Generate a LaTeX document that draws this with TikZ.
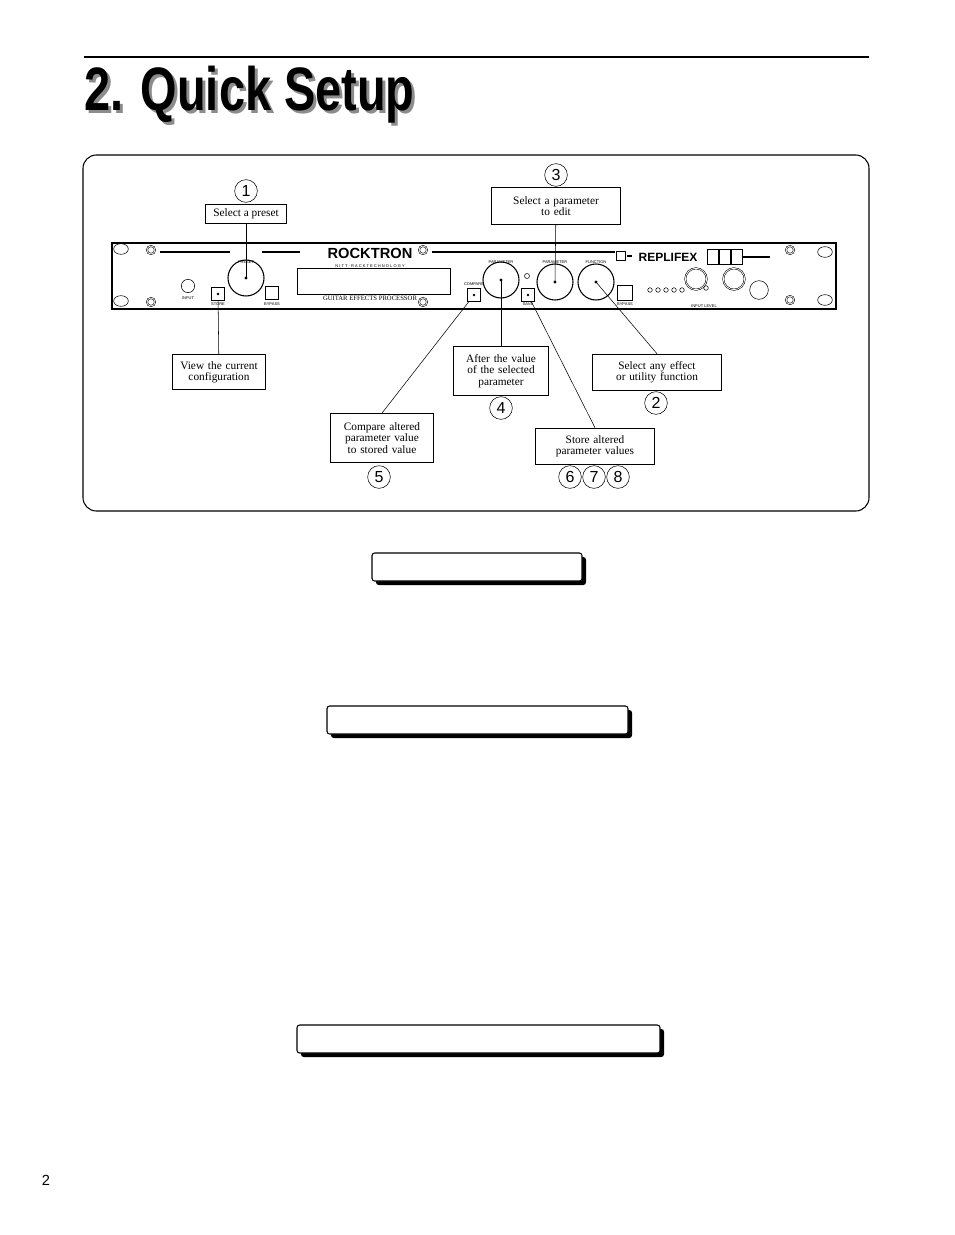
\documentclass[tikz,border=0pt]{standalone}
\usepackage{fontspec}
\setmainfont{Liberation Serif}
\newfontfamily\headfont{Liberation Sans}
\usetikzlibrary{shapes,arrows}
\tikzstyle{block} = [rectangle, draw, fill=white, text centered, font=\fontsize{8.5}{8.5}\selectfont, inner sep=1pt]
\tikzstyle{num} = [circle, draw, minimum size=17pt, inner sep=0pt, font=\headfont\fontsize{12}{12}\selectfont]
\tikzstyle{line} = [draw, thin]
\tikzstyle{knob} = [circle, draw, thick, minimum size=27pt, inner sep=0pt]
\tikzstyle{btn} = [rectangle, draw, minimum size=9.5pt, inner sep=0pt]
\tikzstyle{screw} = [circle, draw, double, minimum size=6pt, inner sep=0pt]
\tikzstyle{hole} = [ellipse, draw, minimum width=11pt, minimum height=8pt, inner sep=0pt]
\tikzstyle{shadowbox} = [rectangle, draw, thick, rounded corners=2pt, fill=white]
\tikzstyle{tiny} = [font=\headfont\fontsize{3}{3}\selectfont, inner sep=0pt]
\begin{document}
\begin{tikzpicture}[x=0.75pt,y=-0.75pt]
   \useasboundingbox (0,0) rectangle (954,1235);
   \draw [thick] (84,57) -- (869,57);
   \node [anchor=west, inner sep=0pt, text=black!45, font=\headfont\bfseries\fontsize{40}{40}\selectfont] at (87,98)
      {\scalebox{0.88}[1.15]{2. Quick Setup}};
   \node [anchor=west, inner sep=0pt, font=\headfont\bfseries\fontsize{40}{40}\selectfont] (title) at (84,95)
      {\scalebox{0.88}[1.15]{2. Quick Setup}};
   \draw [thick, rounded corners=10pt] (83,155) rectangle (869,511);

   % front panel
   \draw [thick] (112,243) rectangle (836,309);
   \foreach \x/\y in {121/249, 121/301, 825/252, 825/300}
      \node [hole] at (\x,\y) {};
   \foreach \x/\y in {151/250, 151/302, 423/250, 423/302, 790/250, 790/300}
      \node [screw] at (\x,\y) {};
   \draw [thick] (160,252) -- (230,252) (262,252) -- (300,252) (432,252) -- (615,252) (627,256) -- (632,256);
   \node [font=\headfont\bfseries\fontsize{11}{11}\selectfont] (brand) at (370,253) {ROCKTRON};
   \node [tiny] at (370,266) {N I T T - R A C K  T E C H N O L O G Y};
   \node [font=\headfont\bfseries\fontsize{9}{9}\selectfont] (fx) at (668,257) {REPLIFEX};
   \foreach \x in {713,725,737}
      \node [draw, minimum width=8pt, minimum height=11pt, inner sep=0pt] at (\x,257) {};
   \node [draw, minimum size=7pt, inner sep=0pt] at (621,256) {};
   \draw [thick] (743,257) -- (770,257);
   \draw (297,268) rectangle (450,294);
   \node [tiny, font=\fontsize{5}{5}\selectfont] at (370,298) {GUITAR EFFECTS PROCESSOR};
   \node [knob] (preset) at (246,278) {};
   \node [knob] (value) at (501,280) {};
   \node [knob] (param) at (555,282) {};
   \node [knob] (func) at (596,282) {};
   \foreach \k in {preset, value, param, func}
      \fill (\k) circle (1.6);
   \node [circle, draw, minimum size=10pt, inner sep=0pt] at (188,286) {};
   \node [btn] (store) at (218,294) {};
   \fill (store) circle (1.3);
   \node [btn] at (272,293) {};
   \node [btn] (compare) at (474,295) {};
   \fill (compare) circle (1.3);
   \node [btn] (save) at (528,295) {};
   \fill (save) circle (1.3);
   \node [btn, minimum size=11pt] at (625,293) {};
   \draw (527,276) circle (2.5);
   \foreach \x in {650,658,666,674,682}
      \draw (\x,290) circle (2.3);
   \node [circle, draw, double, minimum size=16pt, inner sep=0pt] at (696,279) {};
   \node [circle, draw, double, minimum size=16pt, inner sep=0pt] at (734,279) {};
   \draw (706,288) circle (2.3);
   \node [circle, draw, minimum size=14pt, inner sep=0pt] at (759,290) {};
   \foreach \x/\y/\t in {246/262/PRESET, 188/298/INPUT, 218/304/STORE, 272/304/BYPASS,
      474/284/COMPARE, 501/262/PARAMETER, 555/262/PARAMETER, 596/262/FUNCTION, 528/304/SAVE, 625/304/BYPASS, 704/306/INPUT LEVEL}
      \node [tiny] at (\x,\y) {\t};

   % callouts
   \node [block, minimum width=61pt, minimum height=14pt] (b1) at (246,214) {Select a preset};
   \node [num] (n1) at (246,191) {1};
   \node [block, minimum width=97pt, minimum height=28pt, text width=95pt] (b3) at (556,206)
      {Select a parameter\\to edit};
   \node [num] (n3) at (556,175) {3};
   \node [block, minimum width=70pt, minimum height=26pt, text width=68pt] (b4) at (219,372)
      {View the current\\configuration};
   \node [block, minimum width=71pt, minimum height=37pt, text width=69pt] (b5) at (501,371)
      {After the value\\of the selected\\parameter};
   \node [num] (n4) at (501,408) {4};
   \node [block, minimum width=97pt, minimum height=27pt, text width=95pt] (b6) at (657,372)
      {Select any effect\\or utility function};
   \node [num] (n2) at (656,403) {2};
   \node [block, minimum width=77pt, minimum height=37pt, text width=75pt] (b7) at (382,438)
      {Compare altered\\parameter value\\to stored value};
   \node [num] (n5) at (379,477) {5};
   \node [block, minimum width=89pt, minimum height=27pt, text width=87pt] (b8) at (595,446)
      {Store altered\\parameter values};
   \node [num] (n6) at (570,477) {6};
   \node [num] (n7) at (594,477) {7};
   \node [num] (n8) at (618,477) {8};

   \path [line] (b1) -- (preset.center);
   \path [line] (b3) -- (param.center);
   \path [line] (b4) -- (store);
   \path [line] (b5) -- (value.center);
   \path [line] (b6.north) -- (func.center);
   \path [line] (b7.north) -- (compare);
   \path [line] (b8.north) -- (save);

   % empty heading boxes
   \foreach \a/\b/\c/\d/\n in {372/553/582/581/boxA, 327/706/628/734/boxB, 297/1025/660/1053/boxC} {
      \fill [black, rounded corners=2pt] (\a+4,\b+4) rectangle (\c+4,\d+4);
      \draw [shadowbox] (\a,\b) rectangle (\c,\d);
   }
   \node [font=\headfont\fontsize{11}{11}\selectfont] (page) at (46,1180) {2};
\end{tikzpicture}
\end{document}
